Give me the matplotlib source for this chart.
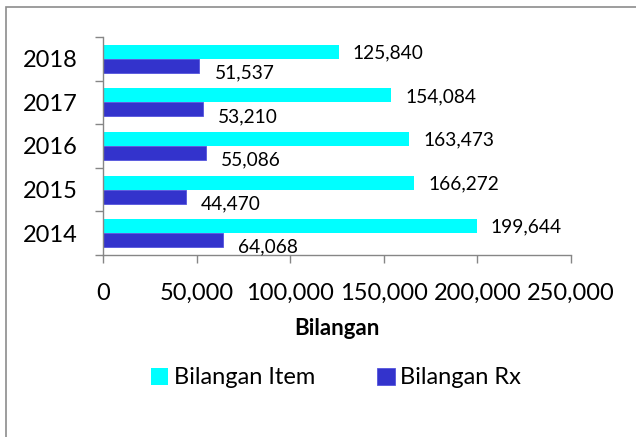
import matplotlib.pyplot as plt
from matplotlib.patches import Rectangle
from matplotlib.ticker import FuncFormatter, FixedLocator

years = ["2014", "2015", "2016", "2017", "2018"]
item_values = [199644, 166272, 163473, 154084, 125840]
rx_values = [64068, 44470, 55086, 53210, 51537]

CYAN = "#00FFFF"
BLUE = "#3333CC"
GRID = "#868686"
FONT = "Lato"

plt.rcParams["font.family"] = [FONT, "DejaVu Sans"]

fig = plt.figure(figsize=(6.36, 4.37), dpi=100)
ax = fig.add_axes([103 / 636, 1 - 255 / 437, 468 / 636, 218 / 437])

# chart frame (only left and top edges visible)
fig.patches.append(Rectangle((6 / 636, -0.1), 1.2, 1 - 7 / 437 + 0.1,
                             transform=fig.transFigure, fill=False,
                             edgecolor="#8c8c8c", linewidth=1.2))

h = 0.32
pos = list(range(len(years)))
ax.barh([p + h / 2 for p in pos], item_values, height=h, color=CYAN,
        label="Bilangan Item")
ax.barh([p - h / 2 for p in pos], rx_values, height=h, color=BLUE,
        edgecolor="#5555dd", linewidth=0.6, label="Bilangan Rx")

for p, v in zip(pos, item_values):
    ax.annotate(f"{v:,}", (v, p + h / 2), xytext=(14, -1),
                textcoords="offset pixels", va="center", ha="left",
                fontsize=13.8)
for p, v in zip(pos, rx_values):
    ax.annotate(f"{v:,}", (v, p - h / 2), xytext=(15, -7),
                textcoords="offset pixels", va="center", ha="left",
                fontsize=13.8)

ax.set_xlim(0, 250000)
ax.set_ylim(-0.5, len(years) - 0.5)
ax.xaxis.set_major_formatter(FuncFormatter(lambda x, _: f"{int(x):,}"))
ax.set_xticks([0, 50000, 100000, 150000, 200000, 250000])
ax.set_yticks(pos)
ax.set_yticklabels(years)
ax.yaxis.set_minor_locator(FixedLocator([p - 0.5 for p in range(len(years) + 1)]))

ax.tick_params(axis="y", which="major", length=0, pad=18, labelsize=17)
ax.tick_params(axis="y", which="minor", length=6, width=1, color=GRID)
ax.tick_params(axis="x", length=6, width=1, color=GRID, pad=14, labelsize=17)

for side in ["top", "right"]:
    ax.spines[side].set_visible(False)
for side in ["left", "bottom"]:
    ax.spines[side].set_color(GRID)
    ax.spines[side].set_linewidth(1)

ax.set_xlabel("Bilangan", fontsize=16, fontweight="bold", labelpad=10)

fig.legend(loc="center", bbox_to_anchor=(336 / 636, 1 - 378 / 437), ncol=2,
           frameon=False, fontsize=17, handlelength=0.75, handleheight=0.75,
           handletextpad=0.25, columnspacing=2.6, borderaxespad=0)

fig.savefig("out.png", dpi=100)
